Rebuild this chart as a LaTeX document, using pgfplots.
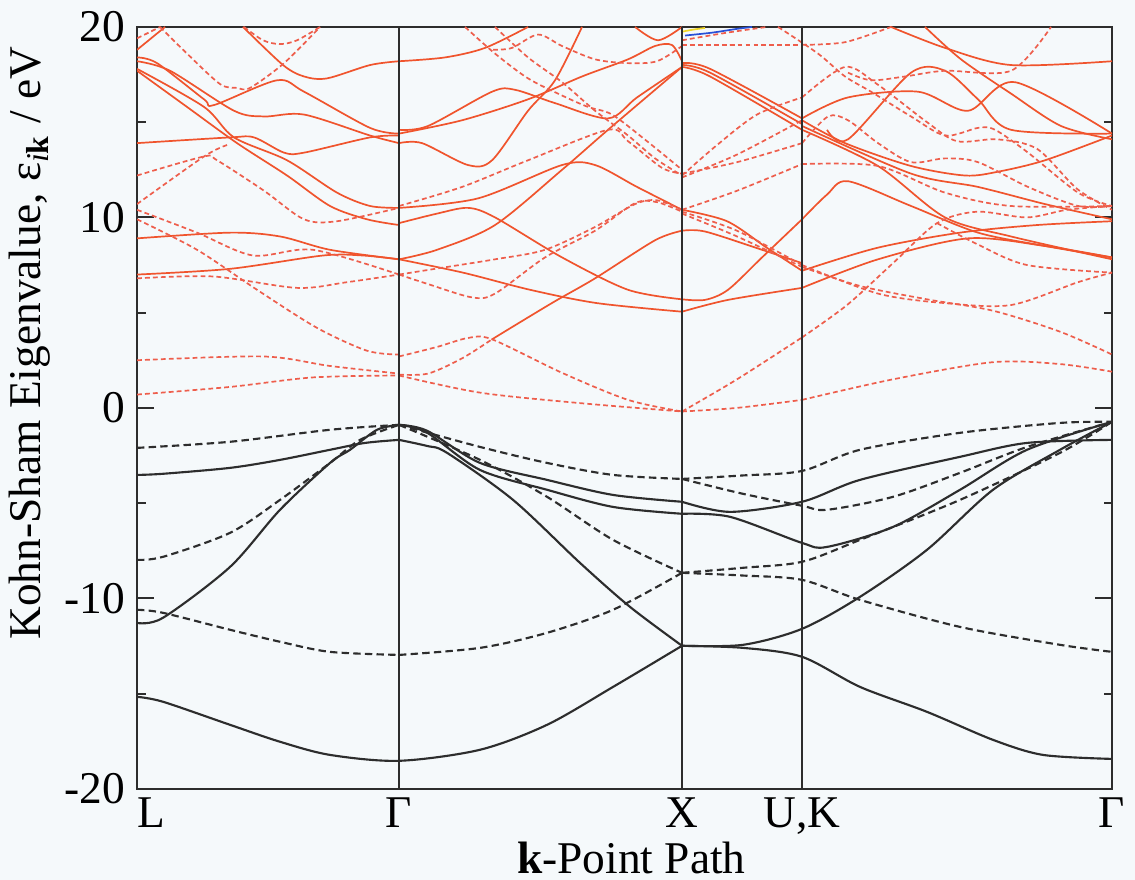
\documentclass[border=0pt]{standalone}
\usepackage{fontspec}
\setmainfont{Liberation Serif}
\usepackage{pgfplots}
\pgfplotsset{compat=1.18}
\definecolor{bg}{RGB}{245,249,251}
\definecolor{rsol}{RGB}{240,84,45}
\definecolor{rdash}{RGB}{238,94,76}
\definecolor{bk}{RGB}{45,45,45}
\pgfplotsset{
 rs/.style={rsol, line width=0.6pt, smooth, tension=0.5},
 rd/.style={rdash, line width=0.6pt, smooth, tension=0.5, dash pattern=on 1.7pt off 1.1pt},
 bs/.style={bk, line width=0.75pt, smooth, tension=0.5},
 bd/.style={bk, line width=0.75pt, smooth, tension=0.5, dash pattern=on 2.6pt off 1.5pt},
}
\begin{document}
\begin{tikzpicture}
\path[use as bounding box, fill=bg] (-48.3pt,-32.1pt) rectangle (351.7pt,278.0pt);
\begin{axis}[
 at={(0,0)}, anchor=south west, scale only axis, width=343.6pt, height=268.5pt,
 xmin=0, xmax=975, ymin=-20, ymax=20,
 axis background/.style={fill=bg},
 axis line style={line width=0.8pt, draw=bk},
 xtick={0,262,545,665,975},
 xticklabels={\hspace{9.9pt}L,Γ,X,{U,K},Γ},
 x tick style={draw=none},
 ytick={-20,-10,0,10,20}, yticklabels={-20,-10,0,10,20},
 minor ytick={-15,-5,5,15},
 y tick style={line width=0.7pt, draw=bk},
 major tick length=6pt, minor tick length=3pt,
 tick align=inside,
 yticklabel pos=left,
 tick label style={font=\fontsize{16}{19}\selectfont},
 xticklabel style={anchor=north, inner sep=3pt},
 yticklabel style={inner sep=4pt},
 every axis y label/.style={at={(axis description cs:-0.1097,0.585)}, rotate=90, anchor=center, font=\fontsize{16}{19}\selectfont},
 every axis x label/.style={at={(axis description cs:0.507,-0.0906)}, anchor=center, font=\fontsize{16}{19}\selectfont},
 ylabel={Kohn-Sham Eigenvalue, ε\textsubscript{\textit{i}\textbf{k}} / eV},
 xlabel={\textbf{k}-Point Path},
]
% ---------------- red solid ----------------
% L - Gamma
\addplot[rs] coordinates {(0,18.8) (28,20)};
\addplot[rs] coordinates {(106,20) (146,18.0) (167,17.4) (190,17.3) (233,18.0) (262,18.2)};
\addplot[rs] coordinates {(0,18.4) (20,18.1) (67,16.2) (77,15.9) (140,17.2) (167,16.6) (233,14.7) (262,14.4)};
\addplot[rs] coordinates {(0,18.2) (33,17.7) (97,15.6) (127,15.3) (167,15.4) (233,14.3) (262,13.9)};
\addplot[rs] coordinates {(0,17.8) (67,15.8) (97,14.2) (150,13.0) (200,11.3) (233,10.6) (262,10.5)};
\addplot[rs] coordinates {(0,17.7) (50,15.8) (100,13.9) (150,12.2) (193,10.6) (230,9.9) (262,9.6)};
\addplot[rs] coordinates {(0,13.9) (93,14.2) (117,14.2) (147,13.4) (167,13.4) (233,14.2) (262,14.3)};
\addplot[rs] coordinates {(0,8.9) (93,9.2) (143,9.0) (193,8.3) (262,7.8)};
\addplot[rs] coordinates {(0,7.0) (93,7.3) (186,8.0) (226,8.0) (262,7.8)};
% Gamma - X
\addplot[rs] coordinates {(355,3.6) (380,4.4) (418,5.6) (458,6.8) (518,8.8) (545,9.3)};
\addplot[rs] coordinates {(262,7.8) (326,7.1) (393,6.2) (460,5.5) (545,5.05)};
\addplot[rs] coordinates {(262,9.7) (300,10.2) (331,10.5) (358,10.0) (425,7.9) (491,6.2) (545,5.7)};
\addplot[rs] coordinates {(262,7.8) (300,8.3) (358,9.6) (425,12.5) (471,14.6) (545,17.9)};
\addplot[rs] coordinates {(262,10.5) (341,11.0) (425,12.75) (458,12.75) (500,11.6) (545,10.4)};
\addplot[rs] coordinates {(262,14.4) (325,15.1) (391,16.2) (445,17.4) (491,18.3) (518,19.0) (535,19.05) (545,18.2)};
\addplot[rs] coordinates {(262,13.9) (285,13.9) (331,12.75) (355,13.0) (391,15.6) (418,17.2) (445,20)};
\addplot[rs] coordinates {(262,14.6) (291,14.8) (355,16.6) (378,16.7) (418,16.0) (471,15.2) (500,16.3) (545,17.9)};
\addplot[rs] coordinates {(262,18.2) (308,18.4) (348,18.9) (391,20)};
\addplot[rs] coordinates {(498,20) (521,19.3) (545,20)};
% X - U,K
\addplot[rs] coordinates {(545,5.05) (591,5.67) (665,6.3)};
\addplot[rs] coordinates {(545,5.7) (568,5.67) (591,6.2) (625,7.9) (665,9.9)};
\addplot[rs] coordinates {(545,9.3) (568,9.26) (625,8.3) (665,7.6)};
\addplot[rs] coordinates {(545,10.4) (590,9.8) (630,8.4) (665,7.2)};
\addplot[rs] coordinates {(545,18.1) (573,17.8) (665,15.2)};
\addplot[rs] coordinates {(545,18.0) (573,17.6) (665,14.9)};
\addplot[rs] coordinates {(545,17.9) (573,17.4) (665,14.6)};
% U,K - Gamma
\addplot[rs] coordinates {(665,6.3) (741,7.8) (831,8.9) (908,8.5) (975,7.9)};
\addplot[rs] coordinates {(665,9.9) (690,11.2) (711,11.9) (774,10.6) (841,9.2) (908,8.5) (975,7.9)};
\addplot[rs] coordinates {(665,7.2) (740,8.4) (823,9.2) (900,9.6) (975,9.8)};
\addplot[rs] coordinates {(665,14.8) (774,12.3) (841,11.6) (908,10.7) (975,9.9)};
\addplot[rs] coordinates {(665,14.6) (741,12.7) (808,10.0) (874,9.0) (975,7.8)};
\addplot[rs] coordinates {(665,15.1) (708,13.9) (774,12.7) (828,12.2) (861,12.4) (908,13.0) (975,14.3)};
\addplot[rs] coordinates {(665,15.2) (711,16.3) (781,16.6) (831,15.6) (878,17.1) (975,14.4)};
\addplot[rs] coordinates {(690,14.6) (711,14.1) (774,17.6) (808,17.7) (841,16.2) (874,14.6) (975,14.4)};
\addplot[rs] coordinates {(754,20) (808,18.9) (874,18.0) (975,18.2)};
\addplot[rs] coordinates {(788,20) (824,18.3) (874,16.5) (924,14.8) (975,14.1)};
% ---------------- red dashed ----------------
\addplot[rd] coordinates {(0,19.4) (23,20)};
\addplot[rd] coordinates {(23,20) (50,18.6) (83,17.0) (100,16.8) (113,16.8) (147,18.1) (183,20)};
\addplot[rd] coordinates {(107,20) (126,19.3) (143,19.1) (160,19.3) (183,20)};
\addplot[rd] coordinates {(0,12.2) (67,13.2) (80,13.0) (127,11.4) (167,9.9) (200,9.8) (262,10.5)};
\addplot[rd] coordinates {(0,10.7) (67,13.2) (90,13.8)};
\addplot[rd] coordinates {(0,10.4) (60,9.2) (116,8.0) (176,8.3) (262,7.0)};
\addplot[rd] coordinates {(0,9.9) (60,8.3) (120,6.2) (180,4.2) (230,3.0) (262,2.8)};
\addplot[rd] coordinates {(0,6.8) (76,6.9) (160,6.3) (210,6.6) (262,7.0)};
\addplot[rd] coordinates {(0,2.5) (126,2.7) (193,2.2) (262,1.8)};
\addplot[rd] coordinates {(0,0.7) (93,1.1) (176,1.6) (262,1.7)};
% Gamma - X
\addplot[rd] coordinates {(262,1.7) (343,0.8) (443,0.25) (545,-0.19)};
\addplot[rd] coordinates {(262,2.7) (300,3.2) (331,3.67) (355,3.6) (425,1.84) (491,0.42) (545,-0.19)};
\addplot[rd] coordinates {(262,1.75) (291,1.8) (325,2.6) (355,3.6)};
\addplot[rd] coordinates {(262,7.0) (291,6.5) (335,5.8) (358,6.0) (408,7.9) (458,9.3) (498,10.75) (520,10.8) (545,10.3)};
\addplot[rd] coordinates {(262,7.0) (298,7.3) (358,7.8) (408,8.3) (458,9.5) (498,10.7) (520,10.9) (545,10.4)};
\addplot[rd] coordinates {(262,10.6) (325,11.6) (391,13.0) (471,14.6) (491,14.0) (525,12.6) (545,12.3)};
\addplot[rd] coordinates {(328,20) (358,18.6) (391,17.3) (425,16.4) (451,15.8) (475,15.4) (510,14.0) (545,12.5)};
\addplot[rd] coordinates {(358,20) (391,18.4) (425,17.1) (458,15.6) (491,14.3) (518,13.1) (545,12.2)};
\addplot[rd] coordinates {(356,18.8) (375,18.9) (401,19.6) (425,19.0) (458,18.3) (491,18.1) (520,18.2) (545,19.0)};
% X - U,K
\addplot[rd] coordinates {(545,-0.19) (600,0.0) (665,0.42)};
\addplot[rd] coordinates {(545,-0.19) (600,1.5) (665,3.7)};
\addplot[rd] coordinates {(545,10.3) (600,9.3) (665,7.5)};
\addplot[rd] coordinates {(545,10.2) (600,9.0) (665,7.4)};
\addplot[rd] coordinates {(545,12.1) (600,13.3) (665,15.1)};
\addplot[rd] coordinates {(545,12.3) (600,12.9) (665,13.9)};
\addplot[rd] coordinates {(545,10.4) (600,11.4) (665,12.8)};
\addplot[rd] coordinates {(545,12.2) (580,13.8) (620,15.4) (665,16.3)};
\addplot[rd] coordinates {(545,19.06) (600,19.06) (665,19.06)};
\addplot[rd] coordinates {(545,19.3) (590,19.7) (630,20)};
% U,K - Gamma
\addplot[rd] coordinates {(665,0.42) (756,1.5) (856,2.4) (923,2.3) (975,1.9)};
\addplot[rd] coordinates {(665,3.7) (710,5.4) (756,7.6) (800,9.7) (840,10.3) (890,10.0) (930,10.4) (975,10.6)};
\addplot[rd] coordinates {(665,7.5) (741,6.0) (808,5.5) (874,5.4) (941,6.6) (975,7.1)};
\addplot[rd] coordinates {(665,7.4) (723,6.4) (790,5.7) (856,5.1) (923,4.0) (975,2.8)};
\addplot[rd] coordinates {(800,9.7) (840,8.6) (890,7.5) (975,7.1)};
\addplot[rd] coordinates {(665,12.8) (741,12.7) (808,11.3) (874,10.6) (975,10.6)};
\addplot[rd] coordinates {(665,13.9) (691,15.3) (711,15.1) (741,13.9) (774,12.9) (808,13.1) (841,12.9) (891,11.6) (941,10.6) (975,10.6)};
\addplot[rd] coordinates {(665,16.3) (708,17.9) (740,17.0) (790,15.0) (820,14.0) (860,14.1) (900,13.6) (940,11.5) (975,10.4)};
\addplot[rd] coordinates {(665,19.06) (708,19.2) (754,20)};
\addplot[rd] coordinates {(641,20) (681,18.6) (708,17.4) (734,16.6) (774,15.3) (808,14.3) (841,14.7) (858,14.6) (891,13.4) (941,11.3) (975,10.6)};
\addplot[rd] coordinates {(711,17.6) (734,17.2) (768,17.4) (808,17.7) (874,17.7) (914,20)};
% small blue / yellow
\addplot[color={rgb,255:red,240;green,215;blue,40}, line width=0.6pt, smooth] coordinates {(545,19.75) (555,19.85) (568,19.95)};
\addplot[color={rgb,255:red,40;green,80;blue,215}, line width=0.6pt, smooth] coordinates {(548,19.55) (575,19.7) (600,19.9) (615,20)};
% ---------------- black solid ----------------
\addplot[bs] coordinates {(0,-15.17) (26,-15.43) (93,-16.64) (143,-17.53) (193,-18.22) (262,-18.53) (343,-17.95) (410,-16.64) (476,-14.65) (545,-12.49)};
\addplot[bs] coordinates {(545,-12.49) (606,-12.60) (665,-13.07) (723,-14.65) (790,-15.96) (856,-17.43) (906,-18.22) (975,-18.43)};
\addplot[bs] coordinates {(0,-11.29) (26,-11.02) (93,-8.35) (143,-5.35) (193,-2.89) (213,-2.2) (240,-1.15) (262,-0.89)};
\addplot[bs] coordinates {(0,-3.52) (26,-3.46) (93,-3.15) (143,-2.73) (193,-2.2) (228,-1.84) (262,-1.68)};
\addplot[bs] coordinates {(262,-0.89) (290,-1.2) (343,-2.89) (410,-3.78) (476,-4.57) (545,-4.93)};
\addplot[bs] coordinates {(262,-0.89) (290,-1.3) (343,-3.26) (410,-4.30) (476,-5.20) (545,-5.56)};
\addplot[bs] coordinates {(262,-1.68) (290,-2.0) (310,-2.36) (376,-4.83) (443,-8.14) (493,-10.45) (545,-12.49)};
\addplot[bs] coordinates {(545,-4.93) (593,-5.46) (665,-4.93) (723,-3.78) (823,-2.57) (890,-1.84) (975,-1.68)};
\addplot[bs] coordinates {(545,-5.56) (593,-5.72) (665,-7.09) (690,-7.30) (756,-6.25) (823,-4.30) (890,-2.20) (975,-0.73)};
\addplot[bs] coordinates {(545,-12.49) (606,-12.44) (665,-11.60) (723,-9.92) (790,-7.45) (856,-4.30) (923,-2.20) (975,-0.73)};
% ---------------- black dashed ----------------
\addplot[bd] coordinates {(0,-2.10) (93,-1.78) (193,-1.15) (262,-0.89)};
\addplot[bd] coordinates {(262,-0.89) (343,-2.05) (410,-2.89) (476,-3.52) (545,-3.73)};
\addplot[bd] coordinates {(545,-3.73) (605,-3.55) (665,-3.31) (723,-2.20) (823,-1.31) (923,-0.79) (975,-0.73)};
\addplot[bd] coordinates {(0,-7.98) (26,-7.82) (93,-6.56) (143,-4.83) (193,-2.89) (223,-1.68) (262,-0.89)};
\addplot[bd] coordinates {(262,-0.89) (343,-2.73) (410,-4.67) (476,-6.93) (545,-8.66)};
\addplot[bd] coordinates {(545,-8.66) (605,-8.4) (665,-8.08) (723,-6.93) (823,-4.83) (923,-2.36) (975,-0.73)};
\addplot[bd] coordinates {(0,-10.60) (26,-10.76) (93,-11.65) (143,-12.28) (193,-12.81) (262,-12.97)};
\addplot[bd] coordinates {(262,-12.97) (343,-12.60) (410,-11.81) (476,-10.60) (545,-8.66)};
\addplot[bd] coordinates {(545,-8.66) (605,-8.8) (665,-9.03) (723,-10.08) (823,-11.50) (923,-12.44) (975,-12.81)};
\addplot[bd] coordinates {(545,-3.73) (605,-4.5) (665,-5.14) (690,-5.35) (756,-4.67) (823,-3.41) (890,-2.05) (975,-0.73)};
% vertical lines
\draw[bk, line width=0.6pt] (axis cs:262,-20) -- (axis cs:262,20);
\draw[bk, line width=0.6pt] (axis cs:545,-20) -- (axis cs:545,20);
\draw[bk, line width=0.6pt] (axis cs:665,-20) -- (axis cs:665,20);
\end{axis}
\end{tikzpicture}
\end{document}
